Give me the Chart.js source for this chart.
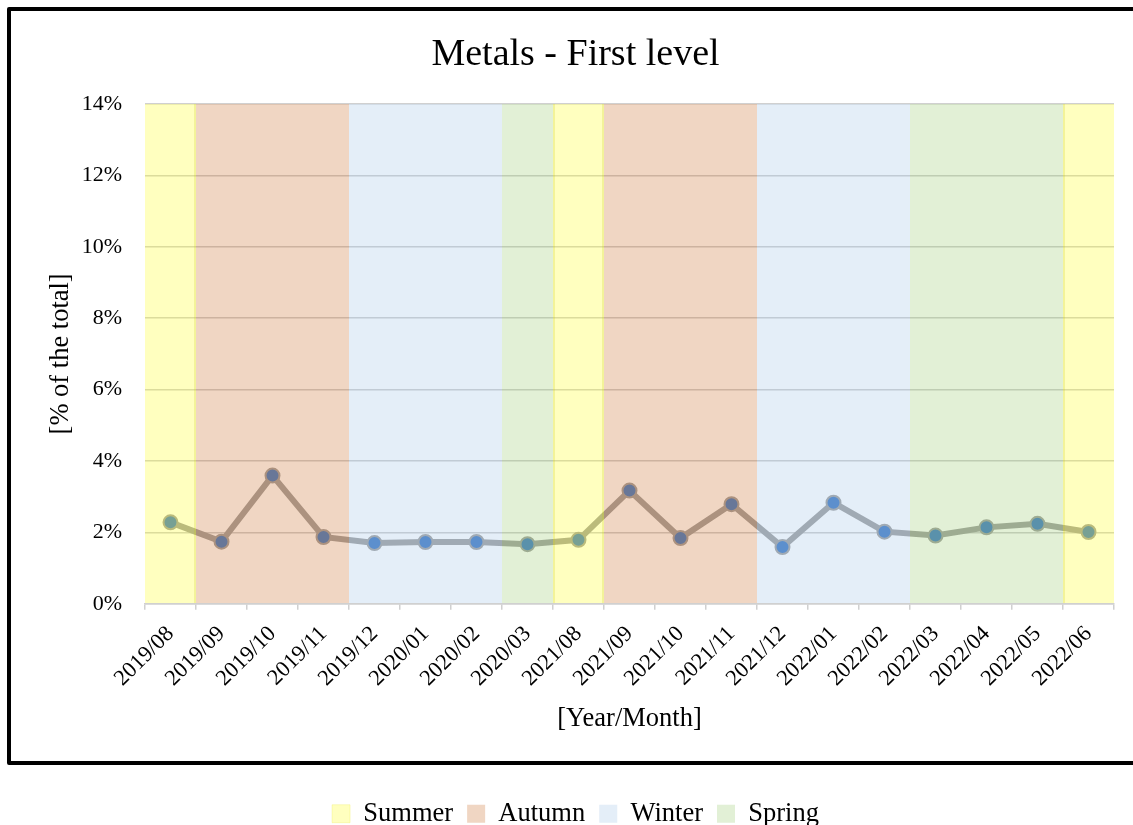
<!DOCTYPE html>
<html>
<head>
<meta charset="utf-8">
<script src="https://cdn.jsdelivr.net/npm/chart.js@4"></script>
<style>
  html, body { margin: 0; padding: 0; background: #ffffff; overflow: hidden; }
  body { width: 1133px; height: 825px; position: relative; }
  #frame {
    position: absolute; left: 7px; top: 7px; width: 1200px; height: 758px;
    box-sizing: border-box; border: 4px solid #000; border-radius: 2px;
  }
  #wrap { position: absolute; left: 0; top: 0; width: 1150px; height: 860px; }
</style>
</head>
<body>
<div id="frame"></div>
<div id="wrap"><canvas id="chart" width="1150" height="860"></canvas></div>
<script>
// Monthly samples on the category axis
const categories = [
  '2019/08', '2019/09', '2019/10', '2019/11', '2019/12', '2020/01', '2020/02', '2020/03',
  '2021/08', '2021/09', '2021/10', '2021/11', '2021/12', '2022/01', '2022/02', '2022/03',
  '2022/04', '2022/05', '2022/06'
];

// Metals share of the total, in percent
const metalsShare = [
  2.28, 1.74, 3.59, 1.87, 1.70, 1.73, 1.73, 1.67,
  1.79, 3.17, 1.84, 2.79, 1.59, 2.83, 2.02, 1.91,
  2.14, 2.24, 2.01
];

// Season each month belongs to
const monthSeason = [
  'Summer', 'Autumn', 'Autumn', 'Autumn', 'Winter', 'Winter', 'Winter', 'Spring',
  'Summer', 'Autumn', 'Autumn', 'Autumn', 'Winter', 'Winter', 'Winter', 'Spring',
  'Spring', 'Spring', 'Summer'
];

const seasonNames = ['Summer', 'Autumn', 'Winter', 'Spring'];
const seasonColours = [
  'rgba(255, 255, 0, 0.25)',
  'rgba(197, 90, 17, 0.25)',
  'rgba(148, 188, 228, 0.25)',
  'rgba(140, 196, 92, 0.25)'
];

// Y axis range and tick step (percent)
const yMin = 0;
const yMax = 14;
const yStep = 2;

const serif = 'Liberation Serif, Times New Roman, serif';

// Summer blocks get a slightly stronger edge where they meet another season
function summerEdges(ctx) {
  const i = ctx.dataIndex;
  return {
    left: i > 0 && monthSeason[i - 1] !== 'Summer' ? 2 : 0,
    right: i < monthSeason.length - 1 && monthSeason[i + 1] !== 'Summer' ? 2 : 0,
    top: 0,
    bottom: 0
  };
}

// Season backgrounds: full-height bars, drawn on top of the line with transparency
const seasonDatasets = seasonNames.map((name, k) => ({
  type: 'bar',
  label: name,
  data: categories.map((c, i) => (monthSeason[i] === name ? yMax : null)),
  backgroundColor: seasonColours[k],
  borderColor: name === 'Summer' ? 'rgba(225, 225, 0, 0.4)' : seasonColours[k],
  borderWidth: name === 'Summer' ? summerEdges : 0,
  borderSkipped: false,
  inflateAmount: 0,
  barPercentage: 1,
  categoryPercentage: 1,
  grouped: false,
  order: 0
}));

const metalsLine = {
  type: 'line',
  label: 'Metals',
  data: metalsShare,
  borderColor: '#a5a5a5',
  borderWidth: 6,
  tension: 0,
  pointRadius: 7,
  pointBorderWidth: 2,
  pointBackgroundColor: '#4a80c6',
  pointBorderColor: '#a5a5a5',
  order: 1
};

new Chart(document.getElementById('chart'), {
  type: 'bar',
  data: {
    labels: categories,
    datasets: [...seasonDatasets, metalsLine]
  },
  options: {
    responsive: false,
    animation: false,
    layout: { padding: { left: 37, right: 36, top: 0, bottom: 23 } },
    plugins: {
      tooltip: { enabled: false },
      title: {
        display: true,
        text: 'Metals - First level',
        color: '#000',
        font: { family: serif, size: 38, weight: 'normal' },
        padding: { top: 32, bottom: 26.4 }
      },
      legend: {
        position: 'bottom',
        labels: {
          filter: (item) => seasonNames.includes(item.text),
          color: '#000',
          boxWidth: 18,
          boxHeight: 18,
          padding: 14,
          font: { family: serif, size: 26.5 }
        }
      }
    },
    scales: {
      x: {
        offset: true,
        border: { display: true, color: '#d0d0d0', width: 1.5 },
        grid: {
          offset: true,
          drawOnChartArea: false,
          drawTicks: true,
          tickLength: 6,
          color: '#d0d0d0',
          lineWidth: 1.5
        },
        ticks: {
          color: '#000',
          font: { family: serif, size: 22.5 },
          minRotation: 45,
          maxRotation: 45,
          autoSkip: false,
          padding: 11
        },
        title: {
          display: true,
          text: '[Year/Month]',
          color: '#000',
          font: { family: serif, size: 26.5 },
          padding: { top: 0, bottom: 52 }
        },
        afterFit: (scale) => { scale.height = 182.75; }
      },
      y: {
        min: yMin,
        max: yMax,
        border: { display: false },
        grid: {
          color: '#d0d0d0',
          lineWidth: 1.5,
          drawTicks: false
        },
        ticks: {
          stepSize: yStep,
          color: '#000',
          font: { family: serif, size: 22 },
          padding: 23,
          callback: (v) => v + '%'
        },
        title: {
          display: true,
          text: '[% of the total]',
          color: '#000',
          font: { family: serif, size: 26.5 },
          padding: { top: 8, bottom: 0 }
        },
        afterFit: (scale) => { scale.width = 108; }
      }
    }
  }
});
</script>
</body>
</html>
